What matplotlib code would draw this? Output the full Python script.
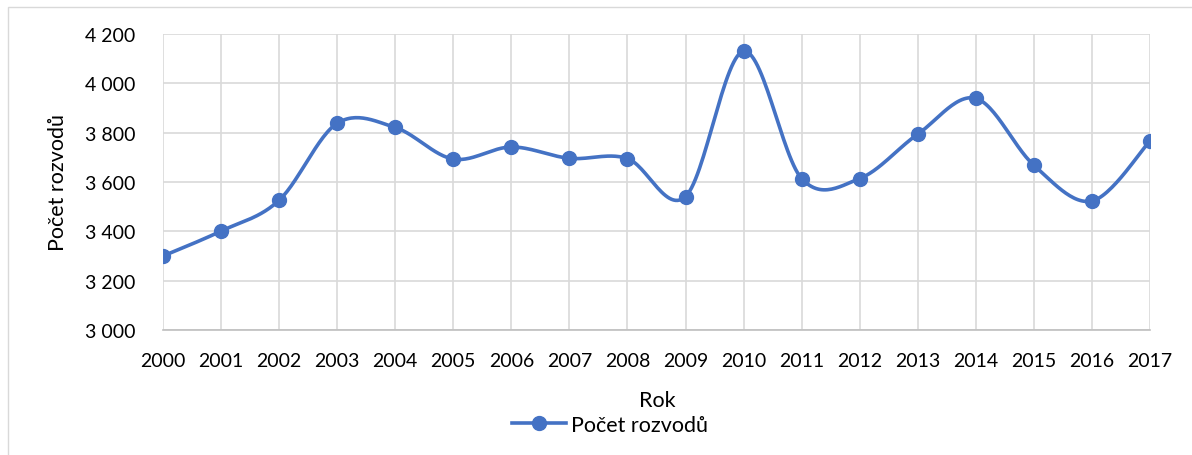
import numpy as np
import matplotlib.pyplot as plt
from matplotlib.patches import Rectangle
from matplotlib.lines import Line2D

years = [str(y) for y in range(2000, 2018)]
divorces = [3300, 3401, 3526, 3838, 3821, 3693, 3742, 3696, 3695, 3541,
            4130, 3614, 3614, 3794, 3939, 3668, 3523, 3767]
y_ticks = [3000, 3200, 3400, 3600, 3800, 4000, 4200]

BLUE = '#4472C4'
plt.rcParams['font.family'] = ['Lato', 'DejaVu Sans']


def smooth_curve(x, y, steps=30):
    """Excel-like smoothed line (Catmull-Rom through the points)"""
    x = np.asarray(x, float)
    y = np.asarray(y, float)
    px = np.concatenate([[x[0]], x, [x[-1]]])
    py = np.concatenate([[y[0]], y, [y[-1]]])
    xs, ys = [], []
    t = np.linspace(0, 1, steps)
    for i in range(1, len(px) - 2):
        p0, p1, p2, p3 = (np.array([px[j], py[j]]) for j in (i - 1, i, i + 1, i + 2))
        c1 = p1 + (p2 - p0) / 6
        c2 = p2 - (p3 - p1) / 6
        b = ((1 - t) ** 3)[:, None] * p1 + (3 * (1 - t) ** 2 * t)[:, None] * c1 \
            + (3 * (1 - t) * t ** 2)[:, None] * c2 + (t ** 3)[:, None] * p2
        xs.extend(b[:, 0])
        ys.extend(b[:, 1])
    return xs, ys


fig = plt.figure(figsize=(11.92, 4.56), dpi=100)
ax = fig.add_axes([163 / 1192, 1 - 331 / 456, (1150 - 163) / 1192, (331 - 35) / 456])

idx = np.arange(len(years))
sx, sy = smooth_curve(idx, divorces)
ax.plot(sx, sy, color=BLUE, lw=2.6, solid_capstyle='round', zorder=3)
ax.plot(idx, divorces, 'o', color=BLUE, ms=10, zorder=4)

ax.set_xlim(0, len(years) - 1)
ax.set_ylim(3000, 4200)
ax.set_xticks(idx)
ax.set_xticklabels(years)
ax.set_yticks(y_ticks)
ax.set_yticklabels([f"{v:,}".replace(',', ' ') for v in y_ticks])
ax.tick_params(length=0, labelsize=14, colors='black')
ax.tick_params(axis='x', pad=16)
ax.tick_params(axis='y', pad=20)

ax.grid(True, color='#D9D9D9', lw=1.2)
ax.set_axisbelow(True)
for side in ['top', 'right', 'left']:
    ax.spines[side].set_visible(False)
ax.spines['bottom'].set_color('#BFBFBF')
ax.spines['bottom'].set_linewidth(1.2)

ax.set_ylabel('Počet rozvodů', fontsize=15.5, va='center')
ax.yaxis.set_label_coords((58 - 163) / 987, 0.5)
ax.set_xlabel('Rok', fontsize=15.5, va='center')
ax.xaxis.set_label_coords((657 - 163) / 987, -(401 - 331) / 296)

handle = Line2D([], [], color=BLUE, lw=2.6, marker='o', ms=10)
fig.legend([handle], ['Počet rozvodů'], loc='center', bbox_to_anchor=(610 / 1192, 1 - 426 / 456),
           frameon=False, fontsize=15.5, handlelength=2.5, handletextpad=0.25)

# chart area border
fig.patches.append(Rectangle((8 / 1192, -0.05), 1.2, 1 - 8 / 456 + 0.05, transform=fig.transFigure,
                             fill=False, edgecolor='#D9D9D9', lw=1))

fig.savefig('out.png', dpi=100)
